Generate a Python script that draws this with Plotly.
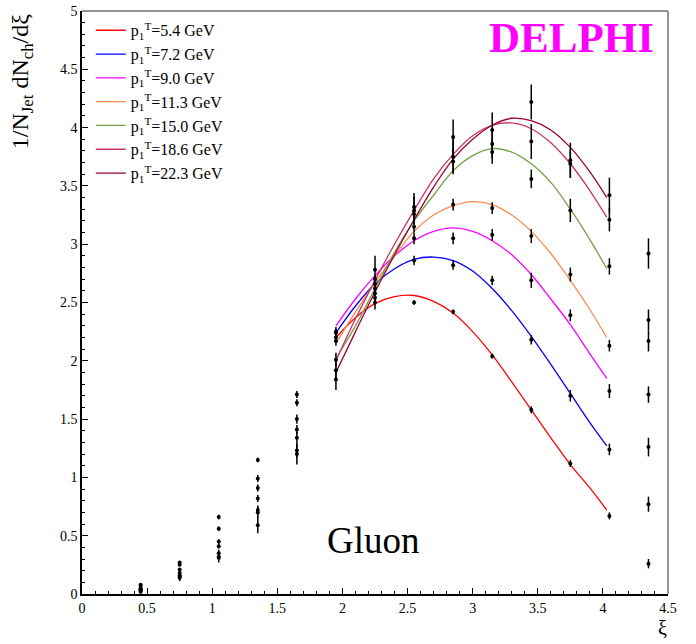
import plotly.graph_objects as go

# ---- data ----
xi_data = [0.45, 0.75, 1.05, 1.35, 1.65, 1.95, 2.25, 2.55, 2.85, 3.15, 3.45, 3.75, 4.05, 4.35]
xi_fit = [1.95, 2.10, 2.25, 2.40, 2.55, 2.70, 2.85, 3.00, 3.15, 3.30, 3.45, 3.60, 3.75, 3.90, 4.03]

labels = ["p<sub>1</sub><sup>T</sup>=5.4 GeV", "p<sub>1</sub><sup>T</sup>=7.2 GeV",
          "p<sub>1</sub><sup>T</sup>=9.0 GeV", "p<sub>1</sub><sup>T</sup>=11.3 GeV",
          "p<sub>1</sub><sup>T</sup>=15.0 GeV", "p<sub>1</sub><sup>T</sup>=18.6 GeV",
          "p<sub>1</sub><sup>T</sup>=22.3 GeV"]
colors = ["#ff0000", "#0000ff", "#ff00ff", "#ff8a50", "#77a048", "#cc3366", "#990033"]

data_54 = [0.08, 0.27, 0.66, 1.15, 1.71, 2.20, 2.50, 2.50, 2.42, 2.04, 1.58, 1.12, 0.67, 0.26]
data_72 = [0.07, 0.25, 0.56, 0.99, 1.64, 2.24, 2.66, 2.86, 2.82, 2.69, 2.18, 1.70, 1.24, 0.77]
data_90 = [0.05, 0.21, 0.45, 0.91, 1.50, 2.25, 2.70, 3.05, 3.05, 3.08, 2.69, 2.39, 1.74, 1.26]
data_113 = [0.04, 0.18, 0.41, 0.82, 1.41, 2.17, 2.62, 3.15, 3.34, 3.31, 3.07, 2.74, 2.13, 1.71]
data_150 = [0.03, 0.16, 0.35, 0.72, 1.34, 2.01, 2.58, 3.26, 3.71, 3.79, 3.56, 3.29, 2.81, 2.17]
data_186 = [0.03, 0.15, 0.32, 0.70, 1.23, 1.92, 2.54, 3.29, 3.75, 3.86, 3.88, 3.69, 3.21, 2.35]
data_223 = [0.02, 0.14, 0.31, 0.59, 1.20, 1.84, 2.78, 3.32, 3.92, 3.98, 4.22, 3.72, 3.42, 2.92]

err_54 = [0.01, 0.01, 0.02, 0.02, 0.03, 0.03, 0.02, 0.02, 0.02, 0.02, 0.03, 0.03, 0.03, 0.04]
err_72 = [0.01, 0.01, 0.02, 0.03, 0.03, 0.03, 0.04, 0.04, 0.04, 0.04, 0.04, 0.05, 0.05, 0.065]
err_90 = [0.01, 0.01, 0.02, 0.03, 0.04, 0.04, 0.04, 0.05, 0.05, 0.05, 0.065, 0.05, 0.06, 0.08]
err_113 = [0.01, 0.02, 0.02, 0.03, 0.04, 0.04, 0.05, 0.05, 0.05, 0.05, 0.06, 0.06, 0.05, 0.07]
err_150 = [0.01, 0.02, 0.03, 0.04, 0.05, 0.06, 0.08, 0.08, 0.10, 0.10, 0.08, 0.10, 0.07, 0.09]
err_186 = [0.02, 0.02, 0.03, 0.05, 0.06, 0.08, 0.10, 0.12, 0.15, 0.12, 0.15, 0.12, 0.10, 0.09]
err_223 = [0.02, 0.03, 0.04, 0.07, 0.09, 0.09, 0.12, 0.12, 0.15, 0.15, 0.15, 0.15, 0.15, 0.13]

fit_54 = [2.20, 2.37, 2.49, 2.55, 2.56, 2.51, 2.41, 2.25, 2.05, 1.82, 1.58, 1.34, 1.11, 0.91, 0.72]
fit_72 = [2.24, 2.47, 2.66, 2.79, 2.87, 2.89, 2.86, 2.77, 2.62, 2.43, 2.21, 1.97, 1.72, 1.47, 1.27]
fit_90 = [2.30, 2.53, 2.73, 2.90, 3.03, 3.11, 3.14, 3.11, 3.03, 2.91, 2.74, 2.53, 2.31, 2.06, 1.85]
fit_113 = [2.15, 2.42, 2.67, 2.90, 3.11, 3.25, 3.33, 3.365, 3.34, 3.25, 3.11, 2.92, 2.69, 2.44, 2.20]
fit_150 = [2.02, 2.30, 2.62, 2.93, 3.20, 3.42, 3.63, 3.76, 3.82, 3.79, 3.69, 3.53, 3.30, 3.04, 2.79]
fit_186 = [2.00, 2.36, 2.69, 3.00, 3.29, 3.56, 3.77, 3.93, 4.02, 4.04, 3.99, 3.87, 3.69, 3.46, 3.23]
fit_223 = [1.90, 2.25, 2.59, 2.91, 3.21, 3.49, 3.73, 3.90, 4.02, 4.08, 4.06, 3.98, 3.83, 3.62, 3.40]

datas = [data_54, data_72, data_90, data_113, data_150, data_186, data_223]
errs = [err_54, err_72, err_90, err_113, err_150, err_186, err_223]
fits = [fit_54, fit_72, fit_90, fit_113, fit_150, fit_186, fit_223]

SERIF = "Liberation Serif, serif"

fig = go.Figure()
for lab, col, fy in zip(labels, colors, fits):
    fig.add_trace(go.Scatter(x=xi_fit, y=fy, mode="lines", name=lab,
                             line=dict(color=col, width=1.3, shape="spline")))
for d, e in zip(datas, errs):
    fig.add_trace(go.Scatter(x=xi_data, y=d, mode="markers", showlegend=False,
                             marker=dict(color="black", size=4, symbol="circle"),
                             error_y=dict(type="data", array=e, color="black",
                                          thickness=1.5, width=0)))

axis_common = dict(showgrid=False, zeroline=False, showline=True, linecolor="black",
                   linewidth=1.5, ticks="inside", ticklen=6, tickcolor="black",
                   automargin=False,
                   tickfont=dict(family=SERIF, size=14, color="black"))

fig.update_xaxes(range=[0, 4.5], dtick=0.5, tick0=0,
                 minor=dict(ticks="inside", dtick=0.1, ticklen=3, tickcolor="black"),
                 **axis_common)
fig.update_yaxes(range=[0, 5], dtick=0.5, tick0=0,
                 minor=dict(ticks="inside", dtick=0.1, ticklen=3, tickcolor="black"),
                 **axis_common)

# gray top/right frame
fig.add_shape(type="line", xref="paper", yref="paper", x0=0, x1=1, y0=1, y1=1,
              line=dict(color="#707070", width=1.5))
fig.add_shape(type="line", xref="paper", yref="paper", x0=1, x1=1, y0=0, y1=1,
              line=dict(color="#707070", width=1.5))

fig.add_annotation(text="DELPHI", xref="paper", yref="paper", x=0.836, y=0.955,
                   showarrow=False, xanchor="center", yanchor="middle",
                   font=dict(family=SERIF, size=43, color="#ff00ff", weight="bold"))
fig.add_annotation(text="Gluon", xref="paper", yref="paper", x=0.498, y=0.0926,
                   showarrow=False, xanchor="center", yanchor="middle",
                   font=dict(family=SERIF, size=37, color="black"))
fig.add_annotation(text="1/N<sub>Jet</sub> dN<sub>ch</sub>/dξ", xref="paper", yref="paper",
                   x=-0.102, y=1.0, textangle=-90, showarrow=False,
                   xanchor="center", yanchor="top",
                   font=dict(family=SERIF, size=24, color="black"))
fig.add_annotation(text="ξ", xref="paper", yref="paper", x=0.99, y=-0.058,
                   showarrow=False, xanchor="center", yanchor="middle",
                   font=dict(family=SERIF, size=20, color="black"))

fig.update_layout(
    width=696, height=644,
    margin=dict(l=82, r=28, t=11, b=50, autoexpand=False),
    paper_bgcolor="white", plot_bgcolor="white",
    showlegend=True,
    legend=dict(x=0.015, y=0.996, xanchor="left", yanchor="top",
                bgcolor="rgba(0,0,0,0)", itemwidth=30,
                font=dict(family=SERIF, size=16, color="black")),
)

fig.write_html("out.html", config={"displayModeBar": False},
               post_script="document.body.style.margin='0px';")
